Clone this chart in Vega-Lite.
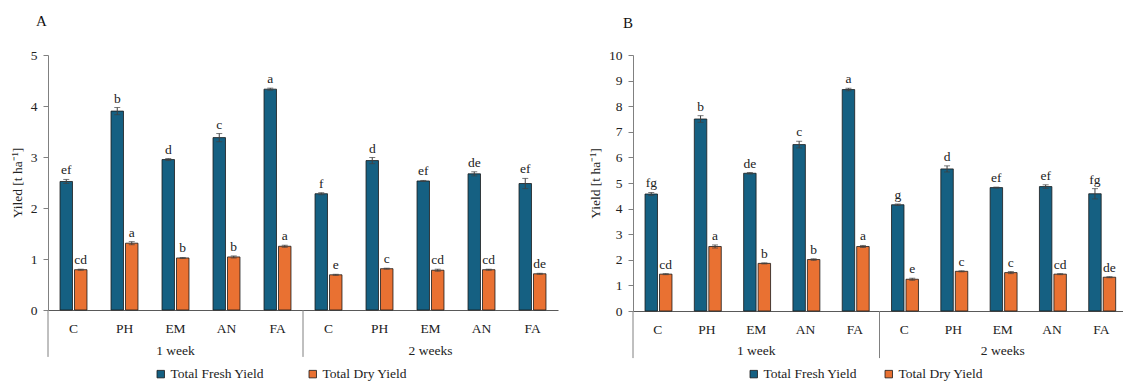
{
  "$schema": "https://vega.github.io/schema/vega-lite/v6.json",
  "padding": {"left": 10, "top": 14, "right": 0, "bottom": 0},
  "background": "white",
  "spacing": 30,
  "config": {
    "font": "Liberation Serif",
    "view": {"stroke": null},
    "axis": {"labelFont": "Liberation Serif", "titleFont": "Liberation Serif", "labelColor": "#222222", "titleColor": "#222222"},
    "axisY": {"grid": false, "tickSize": 5, "tickColor": "#808080", "domainColor": "#808080", "labelPadding": 6, "labelFontSize": 13.5, "titleFontSize": 13.5, "titleFontWeight": "normal", "titlePadding": 6, "labelOverlap": false},
    "legend": {"labelFont": "Liberation Serif"},
    "title": {"font": "Liberation Serif"}
  },
  "resolve": {"legend": {"color": "independent"}, "scale": {"x": "independent", "y": "independent"}},
  "datasets": {
    "A": [
      {"cat": "1 week|C", "series": "Total Fresh Yield", "value": 2.52, "lo": 2.48, "hi": 2.56, "letter": "ef"},
      {"cat": "1 week|C", "series": "Total Dry Yield", "value": 0.79, "lo": 0.78, "hi": 0.80, "letter": "cd"},
      {"cat": "1 week|PH", "series": "Total Fresh Yield", "value": 3.90, "lo": 3.83, "hi": 3.97, "letter": "b"},
      {"cat": "1 week|PH", "series": "Total Dry Yield", "value": 1.31, "lo": 1.28, "hi": 1.34, "letter": "a"},
      {"cat": "1 week|EM", "series": "Total Fresh Yield", "value": 2.95, "lo": 2.93, "hi": 2.97, "letter": "d"},
      {"cat": "1 week|EM", "series": "Total Dry Yield", "value": 1.02, "lo": 1.01, "hi": 1.03, "letter": "b"},
      {"cat": "1 week|AN", "series": "Total Fresh Yield", "value": 3.38, "lo": 3.30, "hi": 3.46, "letter": "c"},
      {"cat": "1 week|AN", "series": "Total Dry Yield", "value": 1.04, "lo": 1.02, "hi": 1.06, "letter": "b"},
      {"cat": "1 week|FA", "series": "Total Fresh Yield", "value": 4.33, "lo": 4.31, "hi": 4.35, "letter": "a"},
      {"cat": "1 week|FA", "series": "Total Dry Yield", "value": 1.25, "lo": 1.23, "hi": 1.27, "letter": "a"},
      {"cat": "2 weeks|C", "series": "Total Fresh Yield", "value": 2.28, "lo": 2.26, "hi": 2.30, "letter": "f"},
      {"cat": "2 weeks|C", "series": "Total Dry Yield", "value": 0.69, "lo": 0.68, "hi": 0.70, "letter": "e"},
      {"cat": "2 weeks|PH", "series": "Total Fresh Yield", "value": 2.93, "lo": 2.87, "hi": 2.99, "letter": "d"},
      {"cat": "2 weeks|PH", "series": "Total Dry Yield", "value": 0.81, "lo": 0.80, "hi": 0.82, "letter": "c"},
      {"cat": "2 weeks|EM", "series": "Total Fresh Yield", "value": 2.53, "lo": 2.52, "hi": 2.54, "letter": "ef"},
      {"cat": "2 weeks|EM", "series": "Total Dry Yield", "value": 0.78, "lo": 0.76, "hi": 0.80, "letter": "cd"},
      {"cat": "2 weeks|AN", "series": "Total Fresh Yield", "value": 2.67, "lo": 2.63, "hi": 2.71, "letter": "de"},
      {"cat": "2 weeks|AN", "series": "Total Dry Yield", "value": 0.79, "lo": 0.78, "hi": 0.80, "letter": "cd"},
      {"cat": "2 weeks|FA", "series": "Total Fresh Yield", "value": 2.48, "lo": 2.38, "hi": 2.58, "letter": "ef"},
      {"cat": "2 weeks|FA", "series": "Total Dry Yield", "value": 0.71, "lo": 0.70, "hi": 0.72, "letter": "de"}
    ],
    "B": [
      {"cat": "1 week|C", "series": "Total Fresh Yield", "value": 4.57, "lo": 4.51, "hi": 4.63, "letter": "fg"},
      {"cat": "1 week|C", "series": "Total Dry Yield", "value": 1.44, "lo": 1.42, "hi": 1.46, "letter": "cd"},
      {"cat": "1 week|PH", "series": "Total Fresh Yield", "value": 7.50, "lo": 7.37, "hi": 7.63, "letter": "b"},
      {"cat": "1 week|PH", "series": "Total Dry Yield", "value": 2.52, "lo": 2.46, "hi": 2.58, "letter": "a"},
      {"cat": "1 week|EM", "series": "Total Fresh Yield", "value": 5.38, "lo": 5.35, "hi": 5.41, "letter": "de"},
      {"cat": "1 week|EM", "series": "Total Dry Yield", "value": 1.86, "lo": 1.84, "hi": 1.88, "letter": "b"},
      {"cat": "1 week|AN", "series": "Total Fresh Yield", "value": 6.50, "lo": 6.37, "hi": 6.63, "letter": "c"},
      {"cat": "1 week|AN", "series": "Total Dry Yield", "value": 2.01, "lo": 1.98, "hi": 2.04, "letter": "b"},
      {"cat": "1 week|FA", "series": "Total Fresh Yield", "value": 8.65, "lo": 8.60, "hi": 8.70, "letter": "a"},
      {"cat": "1 week|FA", "series": "Total Dry Yield", "value": 2.52, "lo": 2.48, "hi": 2.56, "letter": "a"},
      {"cat": "2 weeks|C", "series": "Total Fresh Yield", "value": 4.15, "lo": 4.12, "hi": 4.18, "letter": "g"},
      {"cat": "2 weeks|C", "series": "Total Dry Yield", "value": 1.24, "lo": 1.20, "hi": 1.28, "letter": "e"},
      {"cat": "2 weeks|PH", "series": "Total Fresh Yield", "value": 5.55, "lo": 5.43, "hi": 5.67, "letter": "d"},
      {"cat": "2 weeks|PH", "series": "Total Dry Yield", "value": 1.55, "lo": 1.53, "hi": 1.57, "letter": "c"},
      {"cat": "2 weeks|EM", "series": "Total Fresh Yield", "value": 4.82, "lo": 4.80, "hi": 4.84, "letter": "ef"},
      {"cat": "2 weeks|EM", "series": "Total Dry Yield", "value": 1.50, "lo": 1.46, "hi": 1.54, "letter": "c"},
      {"cat": "2 weeks|AN", "series": "Total Fresh Yield", "value": 4.86, "lo": 4.79, "hi": 4.93, "letter": "ef"},
      {"cat": "2 weeks|AN", "series": "Total Dry Yield", "value": 1.44, "lo": 1.42, "hi": 1.46, "letter": "cd"},
      {"cat": "2 weeks|FA", "series": "Total Fresh Yield", "value": 4.58, "lo": 4.38, "hi": 4.78, "letter": "fg"},
      {"cat": "2 weeks|FA", "series": "Total Dry Yield", "value": 1.32, "lo": 1.30, "hi": 1.34, "letter": "de"}
    ],
    "periods": [
      {"cat": "1 week|EM", "period": "1 week"},
      {"cat": "2 weeks|EM", "period": "2 weeks"}
    ],
    "dividers": [
      {"cat": "1 week|C"},
      {"cat": "2 weeks|C"}
    ]
  },
  "hconcat": [
    {
      "title": {"text": "A", "anchor": "start", "frame": "group", "dx": -12, "fontSize": 15, "fontWeight": "normal", "offset": 19, "color": "#111111"},
      "width": 510,
      "height": 255,
      "layer": [
        {
          "data": {"name": "A"},
          "mark": {"type": "bar", "stroke": "#1a1a1a", "strokeWidth": 0.8},
          "encoding": {
            "x": {"field": "cat", "type": "nominal",
              "scale": {"domain": ["1 week|C", "1 week|PH", "1 week|EM", "1 week|AN", "1 week|FA", "2 weeks|C", "2 weeks|PH", "2 weeks|EM", "2 weeks|AN", "2 weeks|FA"], "paddingInner": 0, "paddingOuter": 0},
              "axis": {"title": null, "labelExpr": "split(datum.label, '|')[1]", "ticks": false, "domainColor": "#595959", "labelFontSize": 13.5, "labelPadding": 11, "labelAngle": 0}},
            "xOffset": {"field": "series", "type": "nominal", "scale": {"domain": ["Total Fresh Yield", "Total Dry Yield"], "paddingInner": 0.14, "paddingOuter": 0.83}},
            "y": {"field": "value", "type": "quantitative", "scale": {"domain": [0, 5]},
              "axis": {"title": "Yiled [t ha⁻¹]", "values": [0, 1, 2, 3, 4, 5]}},
            "color": {"field": "series", "type": "nominal",
              "scale": {"domain": ["Total Fresh Yield", "Total Dry Yield"], "range": ["#156082", "#E97132"]},
              "legend": {"title": null, "orient": "none", "legendX": 106, "legendY": 312, "direction": "horizontal", "symbolType": "square", "symbolSize": 56, "labelFontSize": 13.5, "labelOffset": 3, "columnPadding": 41, "symbolStrokeColor": "#1a1a1a", "symbolStrokeWidth": 0.8, "labelLimit": 200, "labelColor": "#222222"}}
          }
        },
        {
          "data": {"name": "A"},
          "mark": {"type": "rule", "color": "#404040", "strokeWidth": 1},
          "encoding": {
            "x": {"field": "cat", "type": "nominal"},
            "xOffset": {"field": "series", "type": "nominal"},
            "y": {"field": "lo", "type": "quantitative", "axis": {"title": "Yiled [t ha⁻¹]", "values": [0, 1, 2, 3, 4, 5]}},
            "y2": {"field": "hi"}
          }
        },
        {
          "data": {"name": "A"},
          "mark": {"type": "tick", "color": "#404040", "size": 6, "thickness": 1},
          "encoding": {
            "x": {"field": "cat", "type": "nominal"},
            "xOffset": {"field": "series", "type": "nominal"},
            "y": {"field": "hi", "type": "quantitative", "axis": {"title": "Yiled [t ha⁻¹]", "values": [0, 1, 2, 3, 4, 5]}}
          }
        },
        {
          "data": {"name": "A"},
          "mark": {"type": "tick", "color": "#404040", "size": 6, "thickness": 1},
          "encoding": {
            "x": {"field": "cat", "type": "nominal"},
            "xOffset": {"field": "series", "type": "nominal"},
            "y": {"field": "lo", "type": "quantitative", "axis": {"title": "Yiled [t ha⁻¹]", "values": [0, 1, 2, 3, 4, 5]}}
          }
        },
        {
          "data": {"name": "A"},
          "mark": {"type": "text", "baseline": "alphabetic", "dy": -5, "fontSize": 13.5, "color": "#222222"},
          "encoding": {
            "x": {"field": "cat", "type": "nominal"},
            "xOffset": {"field": "series", "type": "nominal"},
            "y": {"field": "hi", "type": "quantitative", "axis": {"title": "Yiled [t ha⁻¹]", "values": [0, 1, 2, 3, 4, 5]}},
            "text": {"field": "letter"}
          }
        },
        {
          "data": {"name": "periods"},
          "mark": {"type": "text", "baseline": "middle", "dy": 41, "fontSize": 13.5, "color": "#222222"},
          "encoding": {
            "x": {"field": "cat", "type": "nominal"},
            "y": {"datum": 0, "type": "quantitative", "axis": {"title": "Yiled [t ha⁻¹]", "values": [0, 1, 2, 3, 4, 5]}},
            "text": {"field": "period"}
          }
        },
        {
          "data": {"name": "dividers"},
          "mark": {"type": "rule", "color": "#808080", "strokeWidth": 1},
          "encoding": {
            "x": {"field": "cat", "type": "nominal", "bandPosition": 0},
            "y": {"datum": 0, "type": "quantitative", "axis": {"title": "Yiled [t ha⁻¹]", "values": [0, 1, 2, 3, 4, 5]}},
            "y2": {"datum": -0.92}
          }
        }
      ]
    },
    {
      "title": {"text": "B", "anchor": "start", "frame": "group", "dx": -10, "fontSize": 15, "fontWeight": "normal", "offset": 17, "color": "#111111"},
      "width": 493,
      "height": 256,
      "layer": [
        {
          "data": {"name": "B"},
          "mark": {"type": "bar", "stroke": "#1a1a1a", "strokeWidth": 0.8},
          "encoding": {
            "x": {"field": "cat", "type": "nominal",
              "scale": {"domain": ["1 week|C", "1 week|PH", "1 week|EM", "1 week|AN", "1 week|FA", "2 weeks|C", "2 weeks|PH", "2 weeks|EM", "2 weeks|AN", "2 weeks|FA"], "paddingInner": 0, "paddingOuter": 0},
              "axis": {"title": null, "labelExpr": "split(datum.label, '|')[1]", "ticks": false, "domainColor": "#595959", "labelFontSize": 13.5, "labelPadding": 11, "labelAngle": 0}},
            "xOffset": {"field": "series", "type": "nominal", "scale": {"domain": ["Total Fresh Yield", "Total Dry Yield"], "paddingInner": 0.14, "paddingOuter": 0.83}},
            "y": {"field": "value", "type": "quantitative", "scale": {"domain": [0, 10]},
              "axis": {"title": "Yield [t ha⁻¹]", "values": [0, 1, 2, 3, 4, 5, 6, 7, 8, 9, 10]}},
            "color": {"field": "series", "type": "nominal",
              "scale": {"domain": ["Total Fresh Yield", "Total Dry Yield"], "range": ["#156082", "#E97132"]},
              "legend": {"title": null, "orient": "none", "legendX": 114, "legendY": 312, "direction": "horizontal", "symbolType": "square", "symbolSize": 56, "labelFontSize": 13.5, "labelOffset": 3, "columnPadding": 24, "symbolStrokeColor": "#1a1a1a", "symbolStrokeWidth": 0.8, "labelLimit": 200, "labelColor": "#222222"}}
          }
        },
        {
          "data": {"name": "B"},
          "mark": {"type": "rule", "color": "#404040", "strokeWidth": 1},
          "encoding": {
            "x": {"field": "cat", "type": "nominal"},
            "xOffset": {"field": "series", "type": "nominal"},
            "y": {"field": "lo", "type": "quantitative", "axis": {"title": "Yield [t ha⁻¹]", "values": [0, 1, 2, 3, 4, 5, 6, 7, 8, 9, 10]}},
            "y2": {"field": "hi"}
          }
        },
        {
          "data": {"name": "B"},
          "mark": {"type": "tick", "color": "#404040", "size": 6, "thickness": 1},
          "encoding": {
            "x": {"field": "cat", "type": "nominal"},
            "xOffset": {"field": "series", "type": "nominal"},
            "y": {"field": "hi", "type": "quantitative", "axis": {"title": "Yield [t ha⁻¹]", "values": [0, 1, 2, 3, 4, 5, 6, 7, 8, 9, 10]}}
          }
        },
        {
          "data": {"name": "B"},
          "mark": {"type": "tick", "color": "#404040", "size": 6, "thickness": 1},
          "encoding": {
            "x": {"field": "cat", "type": "nominal"},
            "xOffset": {"field": "series", "type": "nominal"},
            "y": {"field": "lo", "type": "quantitative", "axis": {"title": "Yield [t ha⁻¹]", "values": [0, 1, 2, 3, 4, 5, 6, 7, 8, 9, 10]}}
          }
        },
        {
          "data": {"name": "B"},
          "mark": {"type": "text", "baseline": "alphabetic", "dy": -5, "fontSize": 13.5, "color": "#222222"},
          "encoding": {
            "x": {"field": "cat", "type": "nominal"},
            "xOffset": {"field": "series", "type": "nominal"},
            "y": {"field": "hi", "type": "quantitative", "axis": {"title": "Yield [t ha⁻¹]", "values": [0, 1, 2, 3, 4, 5, 6, 7, 8, 9, 10]}},
            "text": {"field": "letter"}
          }
        },
        {
          "data": {"name": "periods"},
          "mark": {"type": "text", "baseline": "middle", "dy": 40, "fontSize": 13.5, "color": "#222222"},
          "encoding": {
            "x": {"field": "cat", "type": "nominal"},
            "y": {"datum": 0, "type": "quantitative", "axis": {"title": "Yield [t ha⁻¹]", "values": [0, 1, 2, 3, 4, 5, 6, 7, 8, 9, 10]}},
            "text": {"field": "period"}
          }
        },
        {
          "data": {"name": "dividers"},
          "mark": {"type": "rule", "color": "#808080", "strokeWidth": 1},
          "encoding": {
            "x": {"field": "cat", "type": "nominal", "bandPosition": 0},
            "y": {"datum": 0, "type": "quantitative", "axis": {"title": "Yield [t ha⁻¹]", "values": [0, 1, 2, 3, 4, 5, 6, 7, 8, 9, 10]}},
            "y2": {"datum": -1.84}
          }
        }
      ]
    }
  ]
}
